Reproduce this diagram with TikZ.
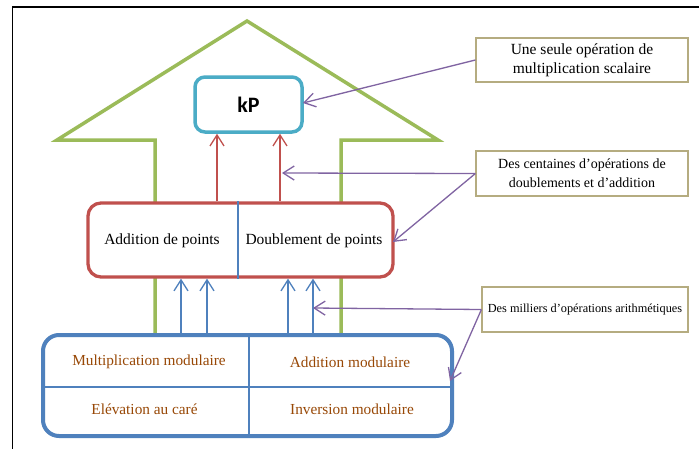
\documentclass[tikz,border=0pt]{standalone}
\usepackage{fontspec}
\setmainfont{Liberation Serif}
\newfontfamily\kpfont{Carlito}
\usetikzlibrary{arrows.meta,calc}

\definecolor{arrowgreen}{HTML}{9BBB59}
\definecolor{pointred}{HTML}{C0504D}
\definecolor{modblue}{HTML}{4F81BD}
\definecolor{kpcyan}{HTML}{4BACC6}
\definecolor{notepurple}{HTML}{8064A2}
\definecolor{modbrown}{HTML}{984806}
\definecolor{notekhaki}{HTML}{B5AC80}

\tikzset{
  barb/.style={-{Straight Barb[length=11pt,width=14pt]}},
  layerbox/.style={rectangle, fill=white, line width=3.5pt, inner sep=0pt},
  notebox/.style={rectangle, draw=notekhaki, line width=1.2pt, fill=white,
    inner sep=0pt, align=center},
  uparrow/.style={barb, line width=1.3pt},
  notearrow/.style={barb, draw=notepurple, line width=1.3pt},
  pointtext/.style={font=\fontsize{15.5}{18}\selectfont, text=black},
  modtext/.style={font=\fontsize{15.3}{18}\selectfont, text=modbrown},
}

\begin{document}
\begin{tikzpicture}[x=1pt,y=-1pt]
  \clip (0,0) rectangle (699,448);
  \fill[white] (0,0) rectangle (699,448);

  % outer frame
  \draw[line width=1.6pt, black] (12.5,7) rectangle (760,500);

  % big hollow arrow behind the layers
  \draw[arrowgreen, line width=3.5pt, line join=miter]
    (155,336) -- (155,140) -- (57,140) -- (247,21) -- (438,140)
    -- (341,140) -- (341,336);

  % layers
  \node[layerbox, draw=kpcyan, rounded corners=10pt,
        minimum width=107pt, minimum height=55pt]
        (kp) at (248.5,104.5) {\kpfont\bfseries\fontsize{22}{24}\selectfont kP};
  \node[layerbox, draw=pointred, rounded corners=13pt, line width=3.3pt,
        minimum width=305pt, minimum height=74pt]
        (pts) at (240.5,240) {};
  \node[layerbox, draw=modblue, rounded corners=16pt, line width=4pt,
        minimum width=409pt, minimum height=101pt]
        (mods) at (247.5,385.5) {};

  % dividers
  \coordinate (ptsdiv) at (238,240);
  \draw[modblue, line width=1.2pt] (pts.north -| ptsdiv) -- (pts.south -| ptsdiv);
  \coordinate (moddiv) at (249,387);
  \draw[modblue, line width=1.3pt] (mods.west |- moddiv) -- (mods.east |- moddiv);
  \draw[modblue, line width=1.3pt] (mods.north -| moddiv) -- (mods.south -| moddiv);

  % texts of the layers
  \node[pointtext] (padd) at (162,241) {Addition de points};
  \node[pointtext] (pdbl) at (314,241) {Doublement de points};
  \node[modtext] (mmul) at (149,362) {Multiplication modulaire};
  \node[modtext] (madd) at (350,362) {Addition modulaire};
  \node[modtext] (msqr) at (144.5,409) {Elévation au caré};
  \node[modtext] (minv) at (352,409) {Inversion modulaire};

  % red arrows from the point layer to kP
  \coordinate (ra) at (217,0);
  \coordinate (rb) at (280,0);
  \draw[uparrow, pointred] (pts.north -| ra) -- (kp.south -| ra);
  \draw[uparrow, pointred] (pts.north -| rb) -- (kp.south -| rb);

  % blue arrows from the modular layer to the point layer
  \foreach \bx [count=\i] in {181,207,288,313} {
    \coordinate (b\i) at (\bx,0);
    \draw[uparrow, modblue] (mods.north -| b\i) -- (pts.south -| b\i);
  }

  % notes
  \node[notebox, minimum width=212pt, minimum height=44pt,
        font=\fontsize{15.5}{19}\selectfont]
        (n1) at (582,60) {Une seule opération de\\multiplication scalaire};
  \node[notebox, minimum width=212pt, minimum height=45pt,
        font=\fontsize{14}{19}\selectfont]
        (n2) at (582,173.5) {Des centaines d’opérations de\\doublements et d’addition};
  \node[notebox, minimum width=206pt, minimum height=45pt,
        font=\fontsize{12.3}{15}\selectfont]
        (n3) at (585,309.5) {Des milliers d’opérations arithmétiques};

  % note arrows
  \coordinate (t1) at (303,103);
  \draw[notearrow] (n1.west) -- (t1);

  \coordinate (t2a) at (282,173);
  \coordinate (t2b) at (393,242);
  \draw[notearrow] (n2.west) -- (t2a);
  \draw[notearrow] (n2.west) -- (t2b);

  \coordinate (t3a) at (313,308);
  \coordinate (t3b) at (450,381);
  \draw[notearrow] (n3.west) -- (t3a);
  \draw[notearrow] (n3.west) -- (t3b);
\end{tikzpicture}
\end{document}
